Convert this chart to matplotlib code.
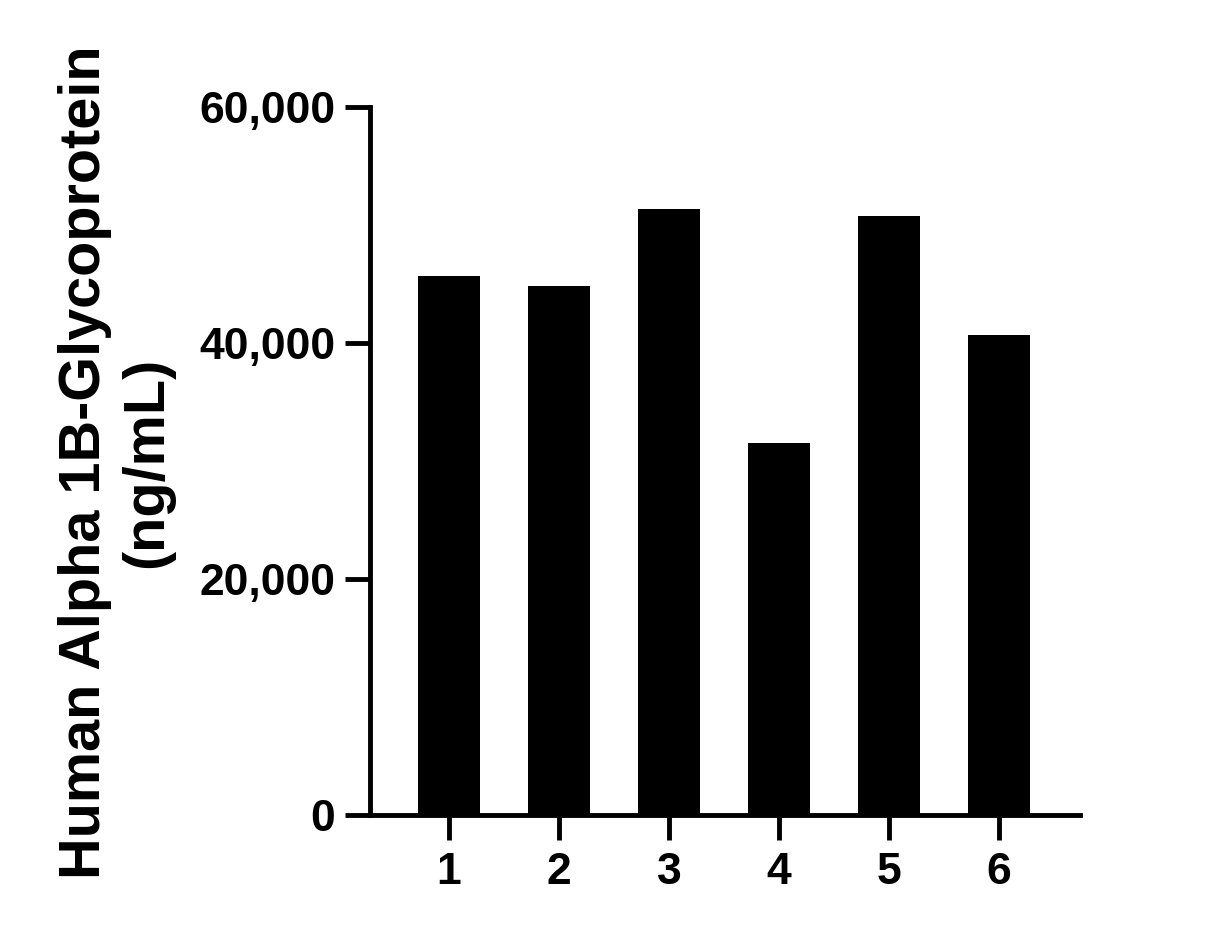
import matplotlib
matplotlib.use("Agg")
import matplotlib.pyplot as plt
from matplotlib.ticker import FuncFormatter

categories = ["1", "2", "3", "4", "5", "6"]
values = [45700, 44850, 51350, 31500, 50750, 40700]
yticks = [0, 20000, 40000, 60000]
ylabel = "Human Alpha 1B-Glycoprotein\n(ng/mL)"

plt.rcParams['font.family'] = ['Liberation Sans', 'DejaVu Sans']
plt.rcParams['font.weight'] = 'bold'

fig = plt.figure(figsize=(12.12, 9.34), dpi=100)
ax = fig.add_axes([370/1212, 1 - 815/934, (1080-370)/1212, (815-107)/934])

x = list(range(1, len(categories) + 1))
ax.bar(x, values, width=0.564, color='black', edgecolor='none')

ax.set_xlim(1 - 79/110, 6 + 81/110)
ax.set_ylim(0, 60000)
ax.set_xticks(x)
ax.set_xticklabels(categories)
ax.set_yticks(yticks)
ax.yaxis.set_major_formatter(FuncFormatter(lambda v, p: f"{int(v):,}"))

for s in ['top', 'right']:
    ax.spines[s].set_visible(False)
for s in ['left', 'bottom']:
    ax.spines[s].set_linewidth(3.5)
    ax.spines[s].set_capstyle('projecting')

ax.tick_params(axis='both', length=18, width=3.5, labelsize=32, color='black')
ax.tick_params(axis='y', pad=7)
ax.tick_params(axis='x', pad=9)
for lab in ax.get_xticklabels() + ax.get_yticklabels():
    lab.set_fontweight('bold')

fig.text(116/1212, 1 - 462/934, ylabel, rotation=90, ha='center', va='center',
         multialignment='center', fontsize=41.5, fontweight='bold', linespacing=1.2)

fig.savefig("out.png", dpi=100)
